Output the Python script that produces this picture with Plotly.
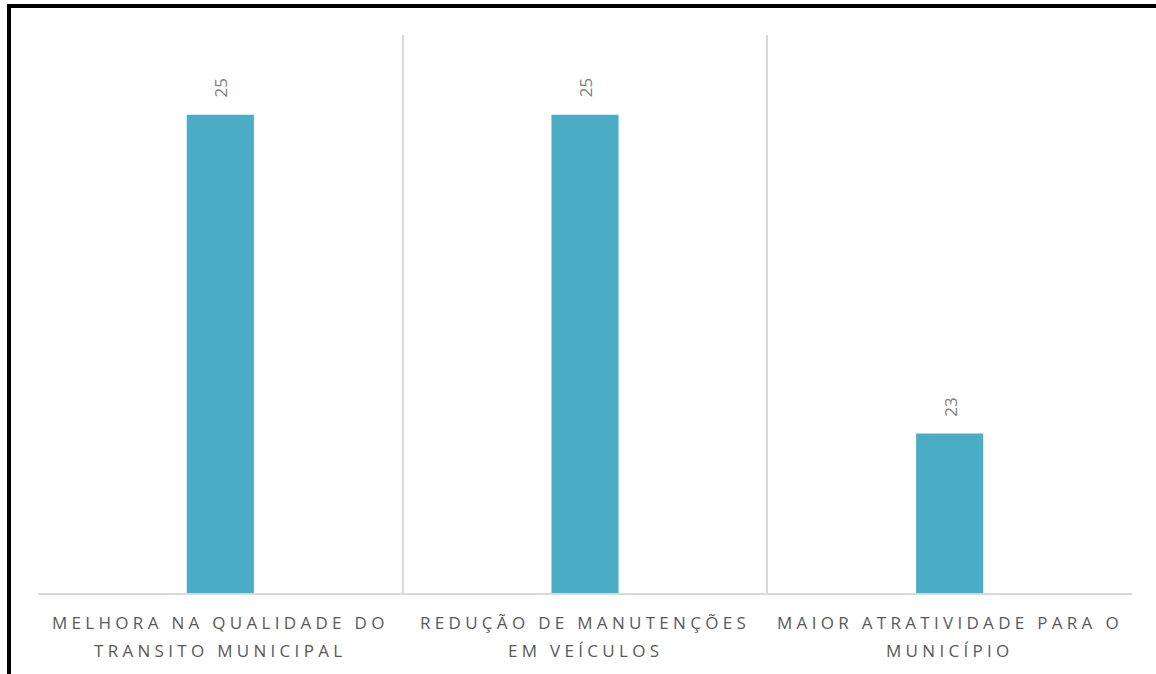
import plotly.graph_objects as go

# Survey results: perceived benefits
categorias_l1 = ["MELHORA NA QUALIDADE DO", "REDUÇÃO DE MANUTENÇÕES", "MAIOR ATRATIVIDADE PARA O"]
categorias_l2 = ["TRANSITO MUNICIPAL", "EM VEÍCULOS", "MUNICÍPIO"]
valores = [25, 25, 23]

posicoes = list(range(len(valores)))
cor_barra = "#4BACC6"
cor_grade = "#D9D9D9"
cor_rotulo = "#595959"
cor_valor = "#7F7F7F"
fonte = "Open Sans"
espaco_letras = "4.3px"

fig = go.Figure()
fig.add_trace(go.Bar(
    x=posicoes,
    y=valores,
    width=0.184,
    marker=dict(color=cor_barra, line=dict(width=0)),
    hoverinfo="skip",
))

# value labels above each bar, rotated
for xi, v in zip(posicoes, valores):
    fig.add_annotation(
        x=xi, y=v, xref="x", yref="y",
        text=str(v), textangle=-90, showarrow=False,
        yanchor="bottom", xanchor="center", yshift=15,
        font=dict(family=fonte, size=17, color=cor_valor),
    )

# two-line category labels under the axis
for xi, l1, l2 in zip(posicoes, categorias_l1, categorias_l2):
    for linha, desloc in ((l1, -29), (l2, -57)):
        fig.add_annotation(
            x=xi, y=0, xref="x", yref="paper",
            text=f'<span style="letter-spacing:{espaco_letras}">{linha}</span>',
            showarrow=False, xanchor="center", yanchor="middle", yshift=desloc,
            font=dict(family=fonte, size=17, color=cor_rotulo),
        )

# outer black frame
fig.add_shape(
    type="rect", xref="paper", yref="paper",
    x0=(9 - 38) / 1094, x1=(1175 - 38) / 1094,
    y0=(593 - 700) / 558, y1=(593 - 6) / 558,
    line=dict(color="black", width=4), fillcolor="rgba(0,0,0,0)",
    layer="above",
)

fig.update_layout(
    width=1156, height=674,
    margin=dict(l=38, r=24, t=35, b=81),
    paper_bgcolor="white", plot_bgcolor="white",
    showlegend=False,
    xaxis=dict(
        range=[-0.5, len(valores) - 0.5],
        tickvals=[i - 0.5 for i in range(len(valores) + 1)],
        showticklabels=False, ticks="",
        showgrid=True, gridcolor=cor_grade, gridwidth=1.5,
        showline=True, linecolor=cor_grade, linewidth=2,
        zeroline=False, fixedrange=True,
    ),
    yaxis=dict(
        range=[22, 25.5],
        showgrid=False, showticklabels=False, ticks="",
        zeroline=False, showline=False, fixedrange=True,
    ),
)

fig.write_html("out.html")
